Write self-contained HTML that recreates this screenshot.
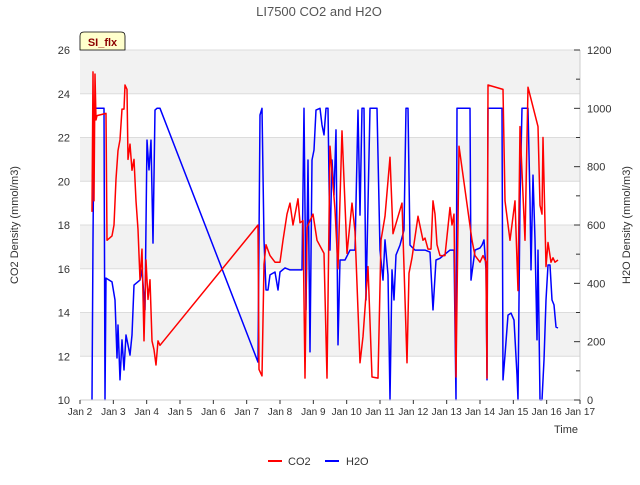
<!DOCTYPE html>
<html><head><meta charset="utf-8"><style>
body{margin:0;background:#fff;}
svg{font-family:"Liberation Sans","DejaVu Sans",sans-serif;}
</style></head><body>
<svg id="chart" width="640" height="480" xmlns="http://www.w3.org/2000/svg">
<rect width="640" height="480" fill="#fff"/>
<text x="319" y="16" text-anchor="middle" font-size="13" fill="#555">LI7500 CO2 and H2O</text>
<g id="bands"></g>
<g id="grid"></g>
<g id="series"></g>
<g id="axes"></g>
<g>
<path d="M80,50 L80,36 Q80,32 84,32 L121,32 Q125,32 125,36 L125,50 Z" fill="#ffffcc" stroke="#000" stroke-width="0.8"/>
<text x="102.5" y="46" text-anchor="middle" font-size="11" font-weight="bold" fill="#8b0000">SI_flx</text>
</g>
<text transform="translate(18,225) rotate(-90)" text-anchor="middle" font-size="11" fill="#333">CO2 Density (mmol/m3)</text>
<text transform="translate(630,225) rotate(-90)" text-anchor="middle" font-size="11" fill="#333">H2O Density (mmol/m3)</text>
<text x="578" y="433" text-anchor="end" font-size="11" fill="#333">Time</text>
<g>
<g><line x1="268" y1="461" x2="282" y2="461" stroke="#f00" stroke-width="2"/><text x="288" y="465" font-size="11" fill="#333">CO2</text></g>
<g><line x1="325" y1="461" x2="339" y2="461" stroke="#00f" stroke-width="2"/><text x="346" y="465" font-size="11" fill="#333">H2O</text></g>
</g>
</svg>
<script>
const co2T=[2.36,2.39,2.42,2.45,2.48,2.51,2.78,2.81,2.96,3.02,3.08,3.14,3.2,3.26,3.32,3.35,3.41,3.44,3.5,3.56,3.62,3.68,3.74,3.8,3.86,3.92,3.98,4.04,4.1,4.16,4.22,4.28,4.34,4.4,7.34,7.37,7.46,7.52,7.58,7.7,7.85,8.0,8.09,8.21,8.3,8.39,8.54,8.6,8.69,8.75,8.81,8.99,9.11,9.32,9.41,9.5,9.65,9.74,9.86,10.01,10.16,10.25,10.4,10.49,10.64,10.76,10.94,11.03,11.15,11.3,11.39,11.66,11.81,11.87,11.96,12.14,12.29,12.35,12.44,12.53,12.59,12.65,12.71,12.8,12.95,13.1,13.16,13.22,13.28,13.37,13.76,13.85,14.0,14.09,14.18,14.21,14.24,14.69,14.75,14.9,15.05,15.14,15.2,15.35,15.44,15.74,15.8,15.86,15.89,15.98,16.04,16.13,16.19,16.25,16.34];
const co2V=[18.6,25.0,19.1,24.9,22.8,23.0,23.1,17.3,17.5,18.0,20.1,21.4,21.9,23.3,23.3,24.4,24.2,21.0,21.7,20.5,21.0,19.1,17.8,15.5,16.9,12.7,16.4,14.6,15.5,12.7,12.3,11.6,12.7,12.5,18.0,11.4,11.1,16.2,17.1,16.6,16.3,16.3,17.3,18.5,19.0,18.0,19.2,18.1,18.2,11.0,17.9,18.5,17.3,16.7,11.0,21.6,18.7,16.0,22.3,16.7,19.0,17.7,11.7,12.9,16.1,11.05,11.0,17.3,18.4,21.1,17.6,19.0,11.7,15.8,16.5,18.4,17.3,17.4,16.9,16.9,19.1,18.5,17.1,16.6,16.6,18.8,18.0,18.5,11.05,21.6,17.3,16.6,16.3,16.6,16.3,11.0,24.4,24.2,19.1,17.3,19.1,15.0,22.5,17.3,24.3,22.5,18.9,18.5,22.0,16.1,17.2,16.3,16.5,16.3,16.4];
const h2oT=[2.36,2.39,2.42,2.45,2.72,2.75,2.78,2.96,3.05,3.11,3.14,3.2,3.26,3.32,3.38,3.44,3.5,3.56,3.62,3.8,3.86,3.95,4.01,4.07,4.13,4.19,4.25,4.31,4.4,7.34,7.4,7.46,7.52,7.58,7.64,7.7,7.85,7.94,8.0,8.15,8.3,8.66,8.72,8.78,8.84,8.9,8.96,9.02,9.08,9.2,9.26,9.32,9.38,9.44,9.5,9.56,9.62,9.68,9.74,9.8,9.95,10.1,10.25,10.34,10.4,10.46,10.52,10.58,10.7,10.91,11.0,11.09,11.15,11.24,11.3,11.36,11.42,11.48,11.6,11.72,11.78,11.84,11.9,12.05,12.35,12.5,12.59,12.68,12.8,13.1,13.22,13.28,13.31,13.7,13.73,13.85,14.0,14.06,14.12,14.18,14.21,14.24,14.66,14.69,14.75,14.84,14.93,15.02,15.11,15.14,15.2,15.26,15.44,15.5,15.53,15.59,15.65,15.71,15.74,15.8,15.86,15.92,15.98,16.04,16.1,16.16,16.22,16.28,16.34];
const h2oV=[0,550,960,1000,1000,0,418,405,343,144,257,69,206,103,223,189,154,223,394,411,446,309,891,789,891,538,994,1000,1000,130,977,1000,549,377,377,429,439,377,439,453,446,446,1000,309,823,165,823,857,994,1000,943,909,1000,1000,514,823,703,926,189,480,480,514,514,994,634,1000,1000,343,1000,1000,514,411,549,429,0,446,343,497,531,583,1000,1000,531,514,514,507,309,480,486,514,514,0,1000,1000,411,514,521,531,549,446,69,1000,1000,69,154,291,298,274,86,0,686,1000,1000,686,446,771,549,206,514,0,0,137,343,463,463,343,326,250,247];
const xTicks=[2,3,4,5,6,7,8,9,10,11,12,13,14,15,16,17];
const leftTicks=[10,12,14,16,18,20,22,24,26];
const rightTicks=[0,200,400,600,800,1000,1200];
const NS="http://www.w3.org/2000/svg";
const L=80,R=580,T=50,B=400;
const xs=t=>L+(t-2)/15*(R-L);
const yL=v=>B-(v-10)/16*(B-T);
const yR=v=>B-v/1200*(B-T);
function mk(tag,attrs,parent){const e=document.createElementNS(NS,tag);for(const k in attrs)e.setAttribute(k,attrs[k]);parent.appendChild(e);return e;}
const bands=document.getElementById('bands'),grid=document.getElementById('grid'),series=document.getElementById('series'),axes=document.getElementById('axes');
mk('rect',{x:L,y:T,width:R-L,height:B-T,fill:'#fff'},bands);
for(let i=0;i<leftTicks.length-1;i+=2){
 const r=mk('rect',{x:L,y:yL(leftTicks[i+1]+2>26?26:leftTicks[i+1]+2),width:R-L,height:yL(leftTicks[i+1])-yL(leftTicks[i+1]+2),fill:'#f2f2f2'},bands);
 
 
}
leftTicks.forEach(v=>{
 const g=mk('line',{x1:L,x2:R,y1:yL(v),y2:yL(v),stroke:'#dcdcdc','stroke-width':1},grid);
 
 
 const t=mk('text',{x:L-10,y:yL(v)+4,'text-anchor':'end','font-size':11,fill:'#333'},axes);
 t.textContent=v;
 
 
});
mk('line',{x1:R,x2:R,y1:T,y2:B,stroke:'#ccc'},axes);
mk('line',{x1:L,x2:R,y1:B,y2:B,stroke:'#ccc'},axes);
for(let v=0;v<=1200;v+=100){
 mk('line',{x1:R-(v%200?4:6),x2:R,y1:yR(v),y2:yR(v),stroke:'#333'},axes);
}
rightTicks.forEach(v=>{
 const t=mk('text',{x:R+7,y:yR(v)+4,'font-size':11,fill:'#333'},axes);
 t.textContent=v;
 
 
});
xTicks.forEach(d=>{
 mk('line',{x1:xs(d),x2:xs(d),y1:B,y2:B+4,stroke:'#333'},axes);
 const t=mk('text',{x:xs(d),y:B+15,'text-anchor':'middle','font-size':10,fill:'#333'},axes);
 t.textContent='Jan '+d;
 
 
});
const pc=mk('polyline',{points:co2T.map((t,i)=>xs(t).toFixed(1)+','+yL(co2V[i]).toFixed(1)).join(' '),fill:'none',stroke:'#f00','stroke-width':1.5,'stroke-linejoin':'round'},series);


const ph=mk('polyline',{points:h2oT.map((t,i)=>xs(t).toFixed(1)+','+yR(h2oV[i]).toFixed(1)).join(' '),fill:'none',stroke:'#00f','stroke-width':1.5,'stroke-linejoin':'round'},series);


series.appendChild(pc);
</script>
</body></html>
